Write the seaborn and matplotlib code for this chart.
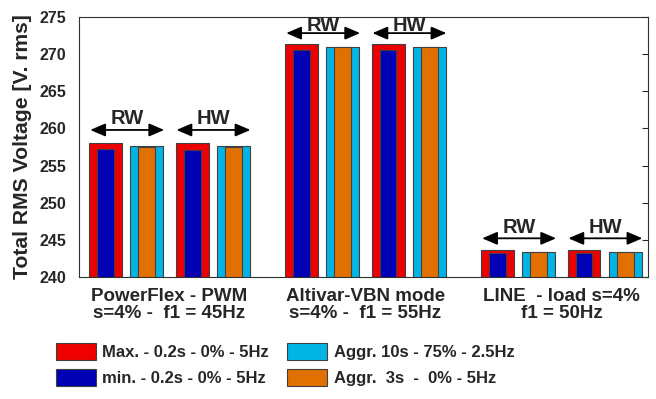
import numpy as np
import pandas as pd
import matplotlib
matplotlib.use("Agg")
import matplotlib.pyplot as plt
import matplotlib.patches as mpatches
import seaborn as sns

###########################
# Data (two windows per drive: RW then HW)
groups = ["PowerFlex - PWM\ns=4% -  f1 = 45Hz",
          "Altivar-VBN mode\ns=4% -  f1 = 55Hz",
          "LINE  - load s=4%\nf1 = 50Hz"]
windows = ["RW", "HW"]
max_v = [258.1, 258.1, 271.4, 271.4, 243.6, 243.6]
min_v = [257.2, 257.1, 270.6, 270.6, 243.2, 243.2]
aggr10_v = [257.6, 257.6, 271.0, 271.0, 243.4, 243.4]
aggr3_v = [257.5, 257.5, 270.95, 270.95, 243.4, 243.4]
arrow_y = [259.8, 272.85, 245.2]
text_y = [260.6, 273.1, 245.9]

labels = ["Max. - 0.2s - 0% - 5Hz", "min. - 0.2s - 0% - 5Hz",
          "Aggr. 10s - 75% - 2.5Hz", "Aggr.  3s  -  0% - 5Hz"]
colors = ["#EE0000", "#0000B4", "#00B4E6", "#E07000"]

################################
# layout of the slots
group_step = 4.77
win_step = 2.1
red_pos = [g * group_step + w * win_step for g in range(len(groups)) for w in range(len(windows))]
cyan_pos = [p + 1 for p in red_pos]

df_max = pd.DataFrame({"pos": red_pos, "value": max_v})
df_min = pd.DataFrame({"pos": red_pos, "value": min_v})
df_a10 = pd.DataFrame({"pos": cyan_pos, "value": aggr10_v})
df_a3 = pd.DataFrame({"pos": cyan_pos, "value": aggr3_v})

sns.set_style("white")
plt.rcParams["font.family"] = ["Liberation Sans", "DejaVu Sans"]
plt.rcParams["font.weight"] = "bold"

fig = plt.figure(figsize=(6.56, 3.99), dpi=100)
ax = fig.add_axes([0.12, 0.306, 0.868, 0.651])

wide = 0.8 / win_step
narrow = 0.41 / win_step
edge = dict(edgecolor="#404040", linewidth=0.8, saturation=1, errorbar=None, native_scale=True)
sns.barplot(data=df_max, x="pos", y="value", color=colors[0], width=wide, ax=ax, **edge)
sns.barplot(data=df_min, x="pos", y="value", color=colors[1], width=narrow, ax=ax, **edge)
sns.barplot(data=df_a10, x="pos", y="value", color=colors[2], width=wide, ax=ax, **edge)
sns.barplot(data=df_a3, x="pos", y="value", color=colors[3], width=narrow, ax=ax, **edge)

# RW / HW arrows over each pair of bars
for g in range(len(groups)):
    for w in range(len(windows)):
        x0 = g * group_step + w * win_step - 0.38
        x1 = x0 + 1.8
        ax.annotate("", xy=(x0, arrow_y[g]), xytext=(x1, arrow_y[g]),
                    arrowprops=dict(arrowstyle="<|-|>,head_length=0.7,head_width=0.3",
                                    color="black", lw=1.3,
                                    mutation_scale=13, shrinkA=0, shrinkB=0))
        ax.text((x0 + x1) / 2, text_y[g], windows[w], ha="center", va="baseline",
                fontsize=14.5, fontweight="bold")

ax.set_ylim(240, 275)
ax.set_xlim(-0.66, 13.2)
ax.set_yticks(np.arange(240, 276, 5))
ax.set_xticks([g * group_step + 1.55 for g in range(len(groups))])
ax.set_xticklabels(groups, fontsize=13.5, fontweight="bold", linespacing=1.0)
ax.tick_params(axis="x", length=0, pad=8)
ax.tick_params(axis="y", direction="in", length=4, right=True, labelsize=11.5, pad=9)
ax.set_xlabel("")
ax.set_ylabel("Total RMS Voltage [V. rms]", fontsize=15.2, fontweight="bold", labelpad=5)
for s in ax.spines.values():
    s.set_color("#303030")
    s.set_linewidth(0.8)

handles = [mpatches.Patch(facecolor=c, edgecolor="#404040", linewidth=0.8) for c in colors]
fig.legend(handles, labels, ncol=2, loc="upper left", bbox_to_anchor=(0.062, 0.178),
           frameon=False, fontsize=12, handlelength=2.4, handleheight=1.2,
           columnspacing=1.1, handletextpad=0.4, labelspacing=0.55)

fig.savefig("out.png", dpi=100)
